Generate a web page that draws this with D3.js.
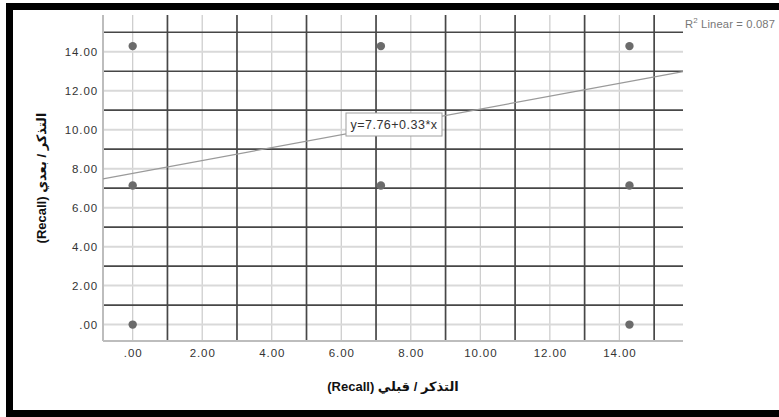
<!DOCTYPE html>
<html>
<head>
<meta charset="utf-8">
<script src="https://cdn.jsdelivr.net/npm/d3@7/dist/d3.min.js"></script>
<style>
  html, body { margin: 0; padding: 0; background: #fff; }
  svg { display: block; }
  text { font-family: "Liberation Sans", Arial, "DejaVu Sans", sans-serif; }
</style>
</head>
<body>
<svg id="chart" width="779" height="417"></svg>
<script>
// Observations (pre vs post recall scores)
const preRecall  = [0, 0, 0, 7.14, 7.14, 14.29, 14.29, 14.29];
const postRecall = [0, 7.14, 14.29, 7.14, 14.29, 0, 7.14, 14.29];

// Axis tick values and labels
const xTicks = [0, 2, 4, 6, 8, 10, 12, 14];
const yTicks = [0, 2, 4, 6, 8, 10, 12, 14];
const tickLabels = [".00", "2.00", "4.00", "6.00", "8.00", "10.00", "12.00", "14.00"];

// Reference lines at odd values
const xRefLines = [1, 3, 5, 7, 9, 11, 13, 15];
const yRefLines = [1, 3, 5, 7, 9, 11, 13, 15];

// Linear fit
const fitIntercept = 7.76;
const fitSlope = 0.33;
const rSquared = 0.087;

const xTitle = "التذكر / قبلي (Recall)";
const yTitle = "التذكر / بعدي (Recall)";

const svg = d3.select("#chart");

// Black frame on top, left and bottom
svg.append("rect").attr("x", 6).attr("y", 3).attr("width", 773).attr("height", 7).attr("fill", "#000");
svg.append("rect").attr("x", 6).attr("y", 3).attr("width", 7).attr("height", 414).attr("fill", "#000");
svg.append("rect").attr("x", 6).attr("y", 410).attr("width", 773).attr("height", 7).attr("fill", "#000");

const plot = { left: 103, right: 683, top: 15, bottom: 341 };

const x = d3.scaleLinear().domain([-0.854, 15.83]).range([plot.left, plot.right]);
const y = d3.scaleLinear().domain([-0.842, 15.886]).range([plot.bottom, plot.top]);

const g = svg.append("g");

// Light grid at tick values
g.selectAll("line.vgrid").data(xTicks).enter().append("line")
  .attr("x1", d => x(d)).attr("x2", d => x(d))
  .attr("y1", plot.top).attr("y2", plot.bottom)
  .attr("stroke", "#cacaca").attr("stroke-width", 1.2);
g.selectAll("line.hgrid").data(yTicks).enter().append("line")
  .attr("x1", plot.left).attr("x2", plot.right)
  .attr("y1", d => y(d)).attr("y2", d => y(d))
  .attr("stroke", "#d9d9d9").attr("stroke-width", 2);

// Dark reference lines
g.selectAll("line.vref").data(xRefLines).enter().append("line")
  .attr("x1", d => x(d)).attr("x2", d => x(d))
  .attr("y1", plot.top).attr("y2", plot.bottom)
  .attr("stroke", "#474747").attr("stroke-width", 1.7);
g.selectAll("line.href").data(yRefLines).enter().append("line")
  .attr("x1", plot.left).attr("x2", plot.right)
  .attr("y1", d => y(d)).attr("y2", d => y(d))
  .attr("stroke", "#474747").attr("stroke-width", 1.7);

// Axis frame lines (left and bottom)
g.append("line").attr("x1", plot.left).attr("x2", plot.left)
  .attr("y1", plot.top).attr("y2", plot.bottom)
  .attr("stroke", "#bdbdbd").attr("stroke-width", 2);
g.append("line").attr("x1", plot.left).attr("x2", plot.right)
  .attr("y1", plot.bottom).attr("y2", plot.bottom)
  .attr("stroke", "#bdbdbd").attr("stroke-width", 2);

// Tick labels
const xAxis = d3.axisBottom(x).tickValues(xTicks)
  .tickFormat((d, i) => tickLabels[i]).tickSize(0).tickPadding(0);
const xAxisG = svg.append("g").attr("transform", `translate(0,${plot.bottom + 8})`).call(xAxis);
xAxisG.select(".domain").remove();
xAxisG.selectAll("text").attr("font-size", 11.5).attr("fill", "#333")
  .attr("letter-spacing", 0.9)
  .attr("font-family", "'Liberation Sans', Arial, sans-serif").attr("dy", "0.71em");

const yAxis = d3.axisLeft(y).tickValues(yTicks)
  .tickFormat((d, i) => tickLabels[i]).tickSize(0).tickPadding(0);
const yAxisG = svg.append("g").attr("transform", `translate(${plot.left - 5},0)`).call(yAxis);
yAxisG.select(".domain").remove();
yAxisG.selectAll("text").attr("font-size", 11.5).attr("fill", "#333")
  .attr("letter-spacing", 0.9)
  .attr("font-family", "'Liberation Sans', Arial, sans-serif");

// Fit line across the plot
const [x0, x1] = x.domain();
g.append("line")
  .attr("x1", x(x0)).attr("y1", y(fitIntercept + fitSlope * x0))
  .attr("x2", x(x1)).attr("y2", y(fitIntercept + fitSlope * x1))
  .attr("stroke", "#9a9a9a").attr("stroke-width", 1.2);

// Points
g.selectAll("circle.pt").data(preRecall.map((v, i) => [v, postRecall[i]])).enter().append("circle")
  .attr("cx", d => x(d[0])).attr("cy", d => y(d[1])).attr("r", 4.2)
  .attr("fill", "#6b6b6b");

// Fit equation label
const eqLabel = `y=${fitIntercept.toFixed(2)}+${fitSlope.toFixed(2)}*x`;
const eqG = svg.append("g");
eqG.append("rect")
  .attr("x", 346).attr("y", 113).attr("width", 96).attr("height", 23)
  .attr("fill", "#fff").attr("stroke", "#a0a0a0").attr("stroke-width", 1);
eqG.append("text").attr("x", 394).attr("y", 129)
  .attr("text-anchor", "middle").attr("font-size", 12.5).attr("letter-spacing", 0.5)
  .attr("fill", "#333").text(eqLabel);

// R squared annotation
const r2 = svg.append("text").attr("x", 685).attr("y", 28).attr("font-size", 11.2)
  .attr("letter-spacing", 0.15).attr("fill", "#777");
r2.append("tspan").text("R");
r2.append("tspan").attr("dy", -5).attr("font-size", 8).text("2");
r2.append("tspan").attr("dy", 5).text(` Linear = ${rSquared.toFixed(3)}`);

// Axis titles
svg.append("text").attr("x", (plot.left + plot.right) / 2).attr("y", 391)
  .attr("text-anchor", "middle").attr("direction", "rtl").attr("unicode-bidi", "embed")
  .attr("font-size", 13).attr("font-weight", "bold").attr("fill", "#111").text(xTitle);

svg.append("text")
  .attr("transform", `translate(46,${(plot.top + plot.bottom) / 2}) rotate(-90)`)
  .attr("text-anchor", "middle").attr("direction", "rtl").attr("unicode-bidi", "embed")
  .attr("font-size", 13).attr("font-weight", "bold").attr("fill", "#111").text(yTitle);
</script>
</body>
</html>
